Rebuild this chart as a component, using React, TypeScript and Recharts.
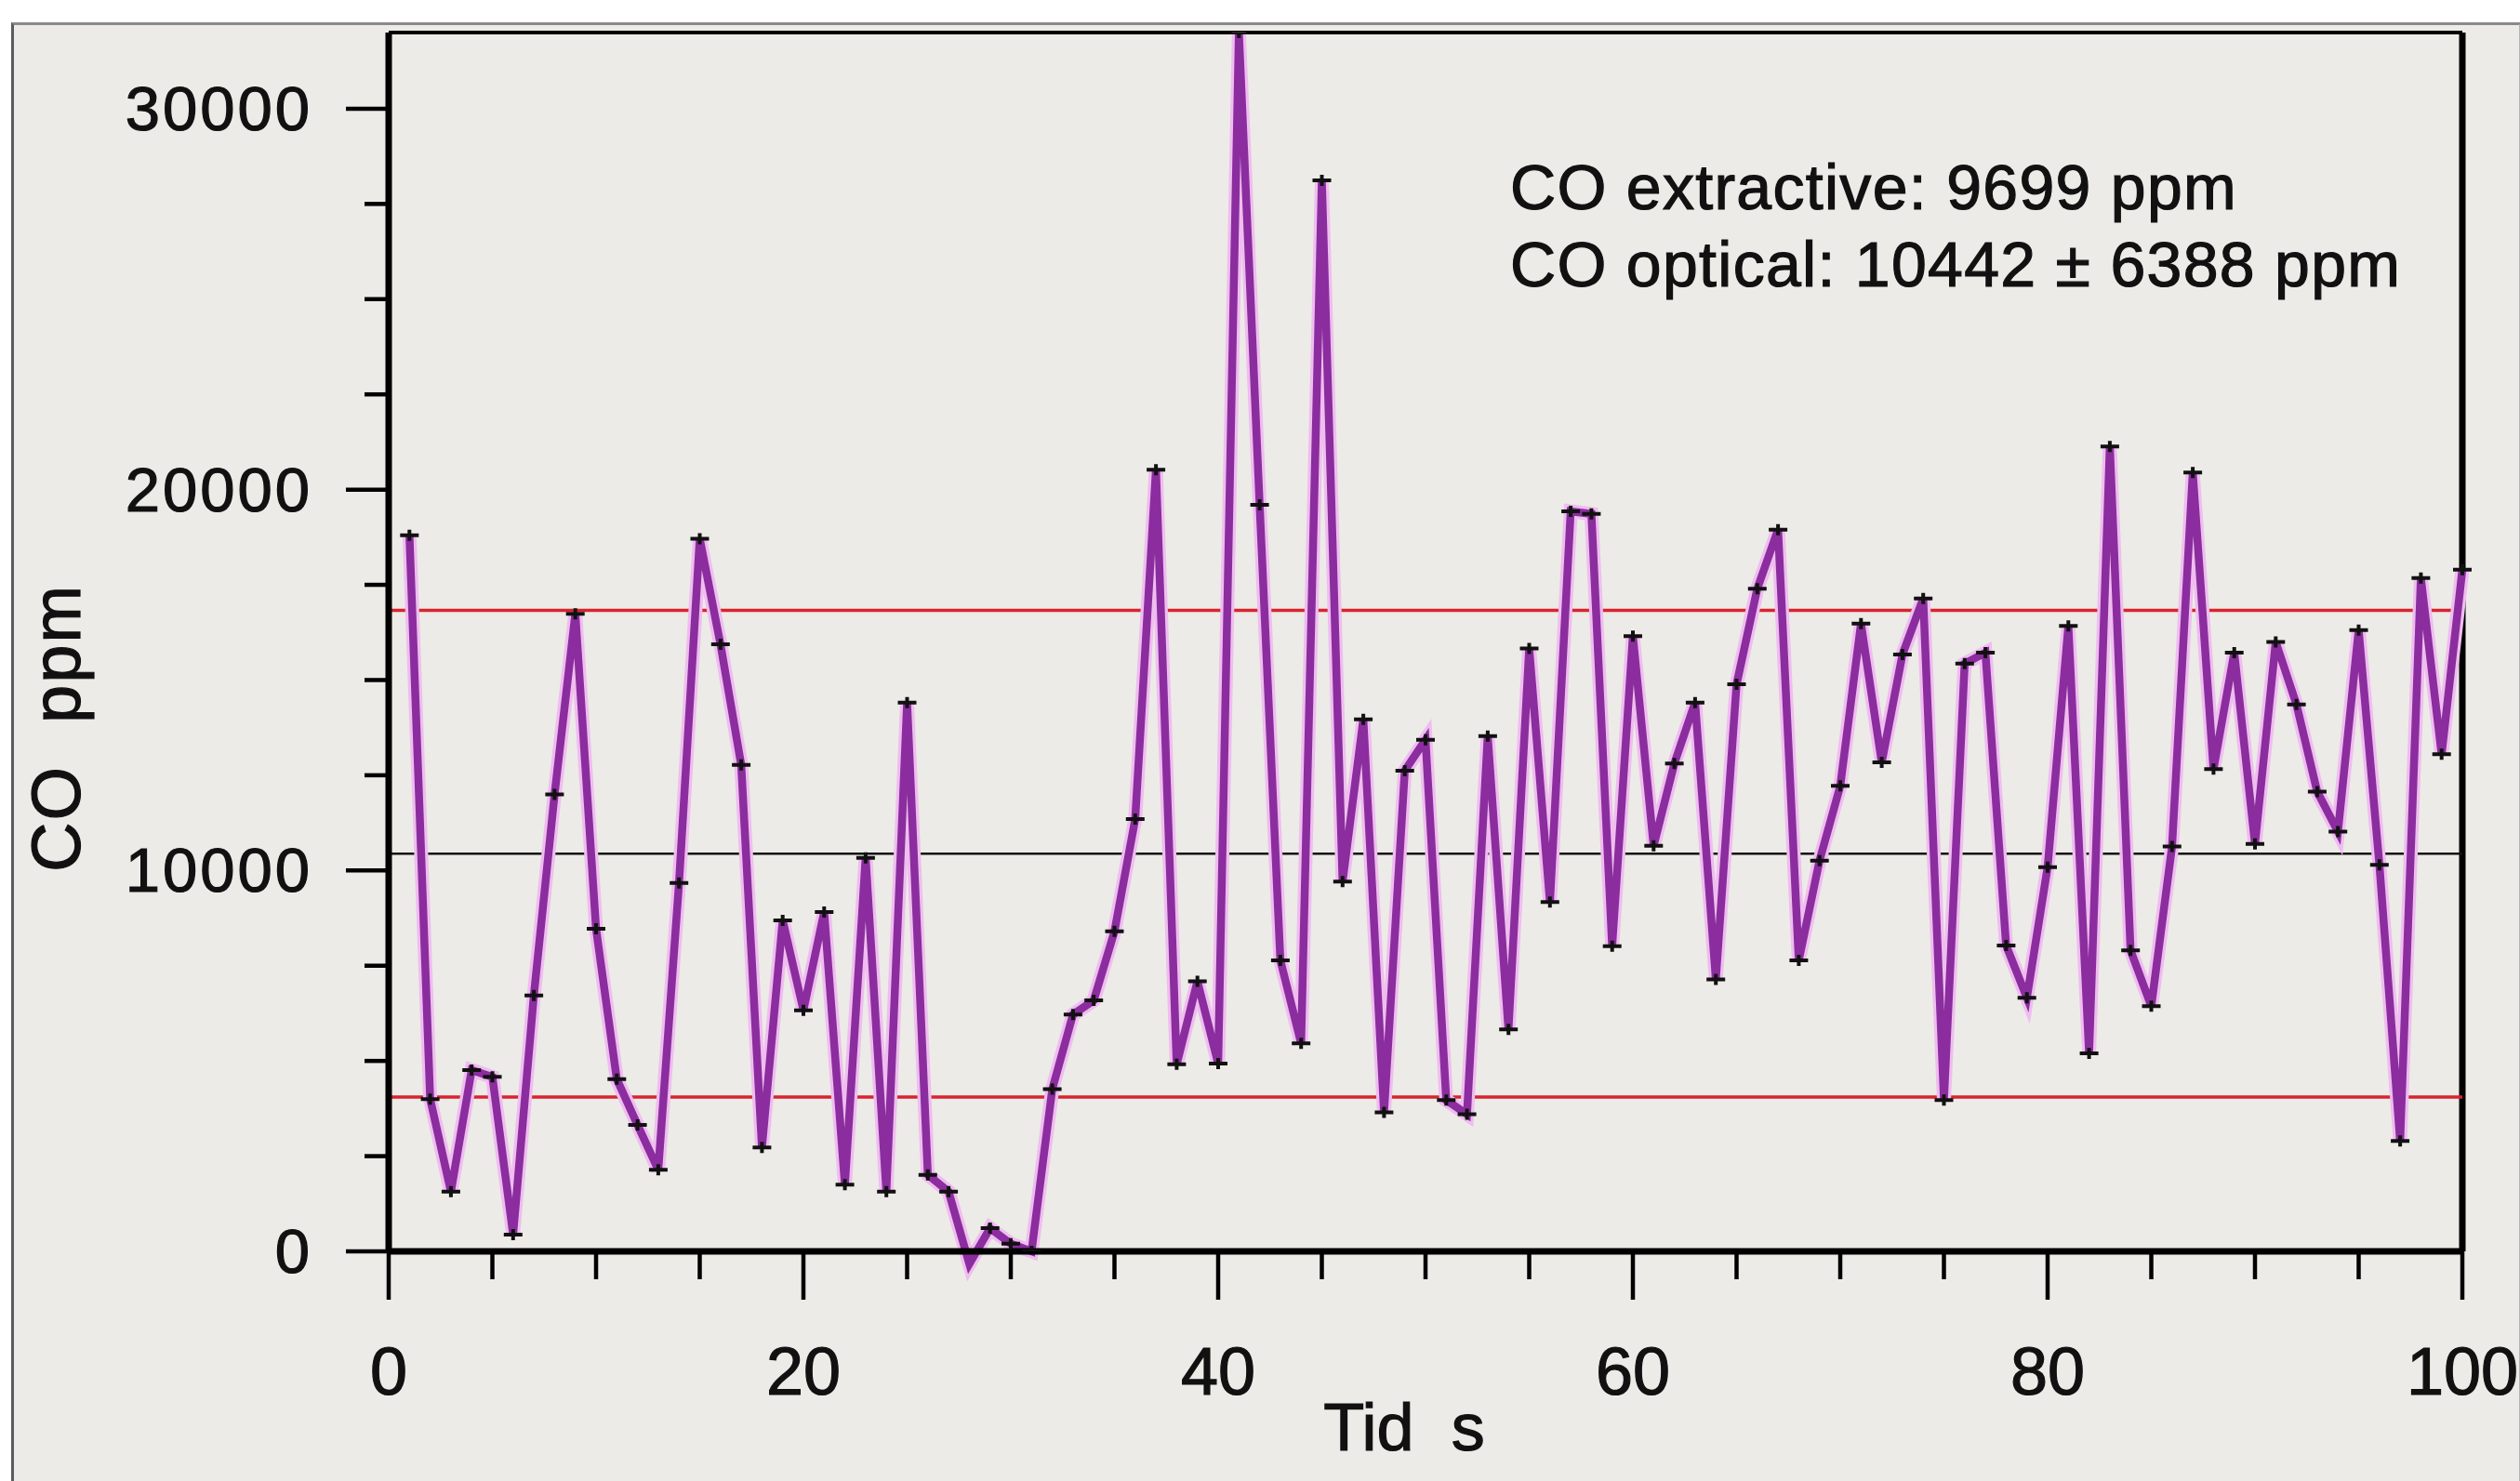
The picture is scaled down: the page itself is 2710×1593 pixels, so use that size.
import React from "react";
import { LineChart, Line, XAxis, YAxis, ReferenceLine } from "recharts";

// CO concentration (ppm), one optical reading per second, t = 1..100 s
const coValues = [
  18800, 4000, 1570, 4760, 4580, 440, 6720, 12000, 16740, 8470,
  4520, 3320, 2140, 9670, 18710, 15940, 12770, 2730, 8690, 6330,
  8910, 1750, 10330, 1570, 14410, 2010, 1570, -330, 610, 200,
  0, 4260, 6220, 6590, 8400, 11350, 20520, 4910, 7090, 4930,
  32000, 19600, 7640, 5460, 28120, 9710, 13970, 3650, 12620, 13430,
  3970, 3600, 13530, 5830, 15830, 9170, 19430, 19360, 8010, 16150,
  10650, 12810, 14410, 7140, 14890, 17400, 18950, 7640, 10260, 12220,
  16480, 12840, 15670, 17140, 3970, 15430, 15720, 8030, 6660, 10090,
  16420, 5200, 21130, 7900, 6440, 10630, 20450, 12660, 15720, 10700,
  16000, 14360, 12070, 11020, 16310, 10150, 2900, 17680, 13050, 17900,
];

const coExtractive = 9699;
const coOpticalMean = 10442;
const coOpticalSd = 6388;

const xTicks = [0, 5, 10, 15, 20, 25, 30, 35, 40, 45, 50, 55, 60, 65, 70, 75, 80, 85, 90, 95, 100];
const xLabelled = [0, 20, 40, 60, 80, 100];
const yTicks = [0, 2500, 5000, 7500, 10000, 12500, 15000, 17500, 20000, 22500, 25000, 27500, 30000];
const yLabelled = [0, 10000, 20000, 30000];

const rows = coValues.map((co, i) => ({ t: i + 1, co }));

const FONT = '"Liberation Sans", Arial, Helvetica, sans-serif';
const INK = "#111";
const PURPLE = "#8b2d9e";
const RED = "#d9232e";

const XTick = ({ x, y, payload }: any) => {
  const major = xLabelled.includes(payload.value);
  return (
    <g>
      <line x1={x} x2={x} y1={y} y2={y + (major ? 52 : 30)} stroke="#000" strokeWidth={4.5} />
      {major && (
        <text
          x={x}
          y={y + 154}
          textAnchor="middle"
          fontSize={72}
          fontFamily={FONT}
          fill={INK}
          stroke={INK}
          strokeWidth={1.2}
        >
          {payload.value}
        </text>
      )}
    </g>
  );
};

const YTick = ({ x, y, payload }: any) => {
  const major = yLabelled.includes(payload.value);
  return (
    <g>
      <line x1={x - (major ? 46 : 26)} x2={x} y1={y} y2={y} stroke="#000" strokeWidth={4.5} />
      {major && (
        <text
          x={x - 82}
          y={y + 23}
          textAnchor="end"
          fontSize={67}
          letterSpacing={3}
          fontFamily={FONT}
          fill={INK}
          stroke={INK}
          strokeWidth={1.2}
        >
          {payload.value}
        </text>
      )}
    </g>
  );
};

const Cross = (p: any) => {
  const { cx, cy, index } = p;
  if (cx == null || cy == null) return <g key={`c-${index}`} />;
  return (
    <path
      key={`c-${index}`}
      d={`M${cx - 10},${cy} H${cx + 10} M${cx},${cy - 6} V${cy + 6}`}
      stroke={INK}
      strokeWidth={4}
      fill="none"
    />
  );
};

export default function App() {
  return (
    <div style={{ position: "absolute", left: 0, top: 0, width: 2710, height: 1593, background: "#fff", overflow: "hidden" }}>
      <style>{`.co-trace, .co-trace *, .recharts-line, .recharts-line * { clip-path: none !important; }`}</style>
      <div
        style={{
          position: "absolute",
          left: 12,
          top: 24,
          width: 2694,
          height: 1580,
          background: "#ecebe7",
          borderLeft: "3px solid #5c5c5c",
          borderTop: "3px solid #8a8a8a",
          borderRight: "2px solid #b4b4b4",
        }}
      />
      <div style={{ position: "absolute", left: 0, top: 0 }}>
        <LineChart width={2710} height={1593} data={rows} margin={{ top: 35, right: 62, bottom: 97, left: 0 }}>
          <XAxis
            dataKey="t"
            type="number"
            domain={[0, 100]}
            ticks={xTicks}
            interval={0}
            height={150}
            tickSize={0}
            tickMargin={0}
            tickLine={false}
            axisLine={{ stroke: "#000", strokeWidth: 7 }}
            tick={<XTick />}
          />
          <YAxis
            type="number"
            domain={[0, 32000]}
            allowDataOverflow
            ticks={yTicks}
            interval={0}
            width={418}
            tickSize={0}
            tickMargin={0}
            tickLine={false}
            axisLine={{ stroke: "#000", strokeWidth: 7 }}
            tick={<YTick />}
          />
          <ReferenceLine y={32000} stroke="#000" strokeWidth={4} />
          <ReferenceLine x={100} stroke="#000" strokeWidth={7} />
          <ReferenceLine y={coOpticalMean + coOpticalSd} stroke={RED} strokeWidth={3.5} />
          <ReferenceLine y={coOpticalMean} stroke={INK} strokeWidth={2.5} />
          <ReferenceLine y={coOpticalMean - coOpticalSd} stroke={RED} strokeWidth={3.5} />
          <Line
            className="co-trace"
            type="linear"
            dataKey="co"
            stroke="#efbdef"
            strokeWidth={15}
            dot={false}
            activeDot={false}
            isAnimationActive={false}
          />
          <Line
            className="co-trace"
            type="linear"
            dataKey="co"
            stroke={PURPLE}
            strokeWidth={8.5}
            dot={Cross}
            activeDot={false}
            isAnimationActive={false}
          />
        </LineChart>
      </div>
      <svg width={2710} height={1593} style={{ position: "absolute", left: 0, top: 0, pointerEvents: "none" }}>
        <g fontFamily={FONT} fill={INK} stroke={INK} strokeWidth={1.2}>
          <text x={1624} y={225} fontSize={68} letterSpacing={1.3}>{`CO extractive: ${coExtractive} ppm`}</text>
          <text x={1624} y={308} fontSize={68} letterSpacing={1.3}>{`CO optical: ${coOpticalMean} \u00b1 ${coOpticalSd} ppm`}</text>
          <text x={1510} y={1560} fontSize={72} textAnchor="middle" style={{ whiteSpace: "pre" }}>
            {"Tid  s"}
          </text>
          <text
            x={86}
            y={783}
            fontSize={74}
            letterSpacing={2}
            textAnchor="middle"
            transform="rotate(-90 86 783)"
            style={{ whiteSpace: "pre" }}
          >
            {"CO  ppm"}
          </text>
        </g>
      </svg>
    </div>
  );
}
